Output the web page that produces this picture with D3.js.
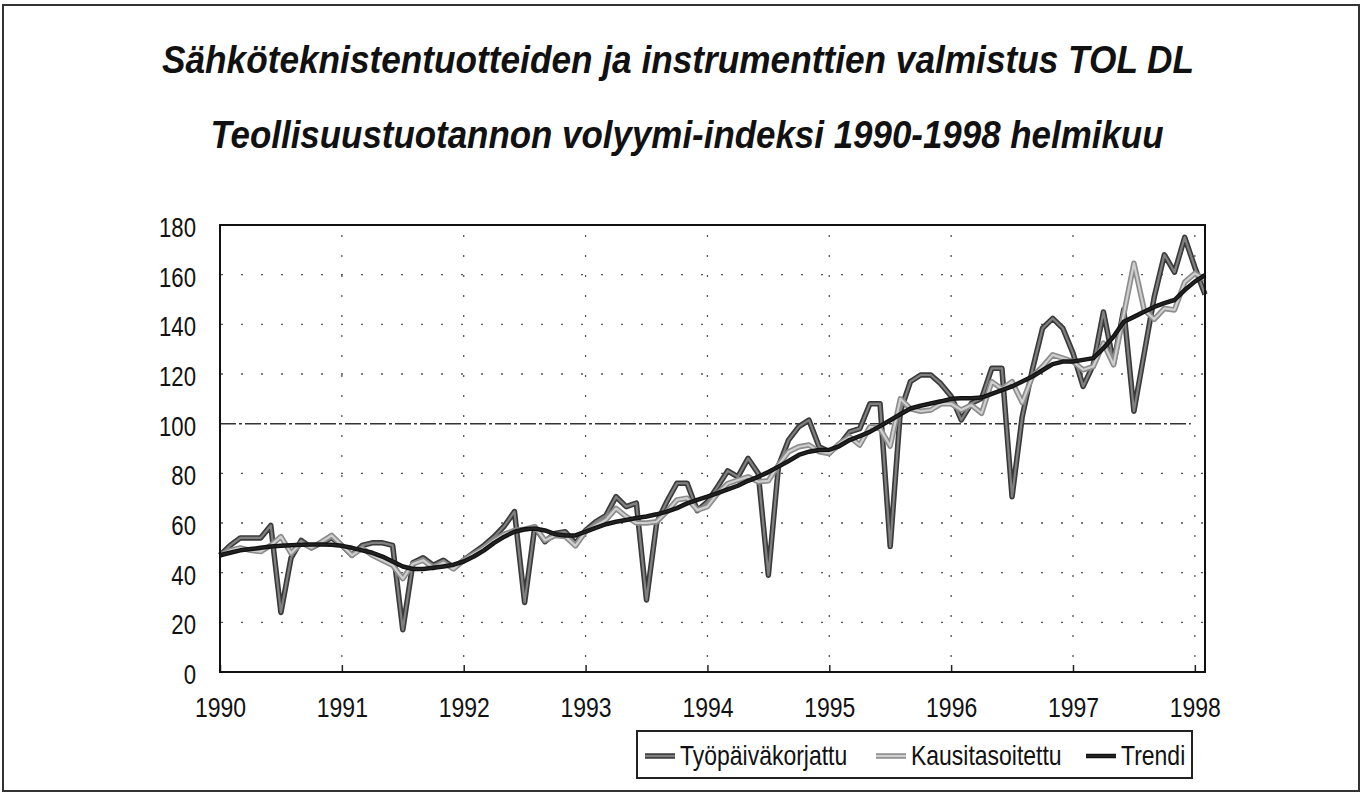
<!DOCTYPE html>
<html>
<head>
<meta charset="utf-8">
<script src="https://cdn.jsdelivr.net/npm/d3@7"></script>
<style>
  body { margin: 0; background: #fff; }
  text { font-family: 'Liberation Sans', Arial, sans-serif; fill: #111; }
</style>
</head>
<body>
<div id="chart"></div>
<script>
// month index 0 = tammikuu 1990 ... 97 = helmikuu 1998
const tyopaiva = [
  47, 51, 54, 54, 54, 59, 24, 46, 53, 50, 52, 54,
  51, 47, 51, 52, 52, 51, 17, 44, 46, 43, 45, 42,
  45, 48, 51, 54.5, 58.8, 64.6, 28, 58.5, 52.5, 55.8, 56.5, 51.8,
  57, 60.5, 63, 70.6, 66.6, 68, 29, 60, 68.6, 76, 76, 65,
  68.5, 74.6, 81, 78.6, 86, 80, 39, 83, 93.5, 98.8, 101.4, 90.7,
  88.7, 91.4, 96.7, 98, 108, 108, 50.5, 105, 117, 119.6, 119.6, 116,
  111, 101.5, 108.2, 110.2, 122.3, 122.3, 70.6, 102.8, 121.7, 138.4, 142.4, 138.4,
  128.4, 115, 123.7, 145, 124.3, 146, 105, 128, 151, 168, 161, 175,
  163, 152
];
const kausi = [
  47, 49, 50, 49, 48.5, 51, 54.5, 47.8, 52, 50, 52.4, 55,
  51, 47, 49.8, 47, 45, 43, 37.6, 43.5, 45, 42, 44, 41.5,
  45, 47.5, 50, 53, 55.5, 57, 57.5, 58.5, 53, 55, 54.6, 50.8,
  56.5, 59, 61.2, 65.9, 62.6, 60, 60, 60.5, 64.6, 69.3, 70, 65.2,
  66.6, 71.9, 75.9, 77.3, 78.6, 76.6, 77, 83.4, 88.7, 90.7, 91.4, 88.7,
  88, 92, 94.7, 91.4, 98.7, 98, 91, 110, 106, 105, 105.5, 108,
  108, 105.5, 107.5, 104.2, 116.9, 114, 116.9, 108.5, 119, 123, 127.7, 126.4,
  125, 121.7, 123, 132.4, 123.7, 144, 164.6, 146, 142, 146.4, 145.8, 157,
  160.5, 158
];
const trendi = [
  47, 48, 49, 49.5, 50, 50.5, 50.8, 51, 51.2, 51.3, 51.3, 51.2,
  50.8, 50, 49, 48, 46.5, 44.5, 42.5, 41.5, 41.5, 42, 42.5, 43.2,
  44.5, 46.5, 49, 52, 54.5, 56.5, 57.5, 57.8, 57, 55.5, 55, 55,
  56.5, 58, 59.5, 60.5, 61.2, 62, 62.6, 63.5, 64.6, 66, 67.9, 69.3,
  70.6, 72, 73.5, 75, 77, 78.6, 80.5, 82.7, 85, 87.4, 88.7, 89.4,
  89.5, 91, 93.4, 95, 96.7, 99, 101.4, 103.8, 106.1, 107.2, 108.1, 109,
  110, 110.2, 110.2, 110.5, 112, 113.5, 115, 117, 119, 121.5, 124, 125,
  125, 125.7, 126.4, 130.4, 135.1, 141, 143, 145.1, 147, 148.5, 149.8, 153.8,
  157.2, 159.8
];
const yearLabels = ['1990', '1991', '1992', '1993', '1994', '1995', '1996', '1997', '1998'];
const yTicks = [0, 20, 40, 60, 80, 100, 120, 140, 160, 180];
const titles = [
  'Sähköteknistentuotteiden ja instrumenttien valmistus TOL DL',
  'Teollisuustuotannon volyymi-indeksi 1990-1998 helmikuu'
];
const legendNames = ['Työpäiväkorjattu', 'Kausitasoitettu', 'Trendi'];

const width = 1365, height = 801;
const plot = { left: 220, right: 1205, top: 225, bottom: 672 };

// no narrow font installed, so squeeze the glyphs like Arial Narrow
function narrow(sel, k = 0.82) {
  sel.each(function () {
    const w = this.getComputedTextLength();
    d3.select(this).attr('textLength', w * k).attr('lengthAdjust', 'spacingAndGlyphs');
  });
}

const svg = d3.select('#chart').append('svg')
  .attr('width', width).attr('height', height);

// outer frame
svg.append('rect')
  .attr('x', 3).attr('y', 5).attr('width', 1356).attr('height', 786)
  .attr('fill', 'none').attr('stroke', '#333').attr('stroke-width', 2);

// titles
const titleLayout = [{ cx: 678, y: 73, len: 1032 }, { cx: 687, y: 148, len: 953 }];
svg.selectAll('text.title').data(titles).join('text')
  .attr('class', 'title')
  .attr('x', (d, i) => titleLayout[i].cx)
  .attr('y', (d, i) => titleLayout[i].y)
  .attr('text-anchor', 'middle')
  .attr('font-size', 38)
  .attr('font-weight', 'bold')
  .attr('font-style', 'italic')
  .attr('textLength', (d, i) => titleLayout[i].len)
  .attr('lengthAdjust', 'spacingAndGlyphs')
  .text(d => d);

const x = d3.scaleLinear().domain([0, 97]).range([plot.left, plot.right]);
const y = d3.scaleLinear().domain([0, 180]).range([plot.bottom, plot.top]);
const yearIdx = yearLabels.map((d, i) => i * 12);

// dotted gridlines
svg.append('g').selectAll('line')
  .data(yTicks.filter(v => v > 0 && v < 180 && v !== 100))
  .join('line')
  .attr('x1', plot.left + 1).attr('x2', plot.right)
  .attr('y1', d => y(d)).attr('y2', d => y(d))
  .attr('stroke', '#555').attr('stroke-width', 1.3)
  .attr('stroke-dasharray', '2,18');

svg.append('g').selectAll('line')
  .data(yearIdx.slice(1))
  .join('line')
  .attr('x1', d => x(d)).attr('x2', d => x(d))
  .attr('y1', plot.top + 10).attr('y2', plot.bottom)
  .attr('stroke', '#555').attr('stroke-width', 1.3)
  .attr('stroke-dasharray', '2,18');

// 100 reference line
svg.append('line')
  .attr('x1', plot.left).attr('x2', x(96) - 4)
  .attr('y1', y(100)).attr('y2', y(100))
  .attr('stroke', '#333').attr('stroke-width', 1.5)
  .attr('stroke-dasharray', '16,3,3,3');

// axes
const xAxis = svg.append('g')
  .attr('transform', `translate(0,${plot.bottom})`)
  .call(d3.axisBottom(x).tickValues(yearIdx)
    .tickFormat((d, i) => yearLabels[i]).tickSize(-7).tickPadding(25));
xAxis.select('.domain').remove();
xAxis.selectAll('line').attr('stroke', '#222').attr('stroke-width', 1.5);
xAxis.selectAll('text').attr('font-size', 28).attr('fill', '#111')
  .attr('font-family', "'Liberation Sans', Arial, sans-serif")
  .call(narrow);

const yAxis = svg.append('g')
  .attr('transform', `translate(${plot.left},0)`)
  .call(d3.axisLeft(y).tickValues(yTicks).tickSize(0).tickPadding(24));
yAxis.select('.domain').remove();
yAxis.selectAll('text').attr('font-size', 27).attr('fill', '#111').attr('dy', '0.42em')
  .attr('font-family', "'Liberation Sans', Arial, sans-serif")
  .call(narrow);

// series
const line = d3.line().x((d, i) => x(i)).y(d => y(d));
const styles = [
  { data: tyopaiva, outer: '#3a3a3a', inner: '#808080', ow: 5.5, iw: 2.2 },
  { data: kausi, outer: '#8c8c8c', inner: '#cfcfcf', ow: 5.5, iw: 2.2 },
  { data: trendi, outer: '#111', inner: '#222', ow: 4.5, iw: 2 }
];
const series = svg.append('g');
styles.forEach(s => {
  series.append('path').datum(s.data).attr('d', line)
    .attr('fill', 'none').attr('stroke', s.outer).attr('stroke-width', s.ow)
    .attr('stroke-linejoin', 'round');
  series.append('path').datum(s.data).attr('d', line)
    .attr('fill', 'none').attr('stroke', s.inner).attr('stroke-width', s.iw)
    .attr('stroke-linejoin', 'round');
});

// plot frame
svg.append('rect')
  .attr('x', plot.left).attr('y', plot.top)
  .attr('width', plot.right - plot.left).attr('height', plot.bottom - plot.top)
  .attr('fill', 'none').attr('stroke', '#111').attr('stroke-width', 2);

// legend
const legend = svg.append('g');
legend.append('rect')
  .attr('x', 637).attr('y', 731).attr('width', 555).attr('height', 47)
  .attr('fill', '#fff').attr('stroke', '#222').attr('stroke-width', 2);
const legendX = [645, 876, 1086];
legendNames.forEach((name, i) => {
  const s = styles[i];
  legend.append('line').attr('x1', legendX[i]).attr('x2', legendX[i] + 30)
    .attr('y1', 756).attr('y2', 756)
    .attr('stroke', s.outer).attr('stroke-width', s.ow);
  legend.append('line').attr('x1', legendX[i]).attr('x2', legendX[i] + 30)
    .attr('y1', 756).attr('y2', 756)
    .attr('stroke', s.inner).attr('stroke-width', s.iw);
  legend.append('text').attr('x', legendX[i] + 35).attr('y', 765)
    .attr('font-size', 28).text(name)
    .call(narrow);
});
</script>
</body>
</html>
